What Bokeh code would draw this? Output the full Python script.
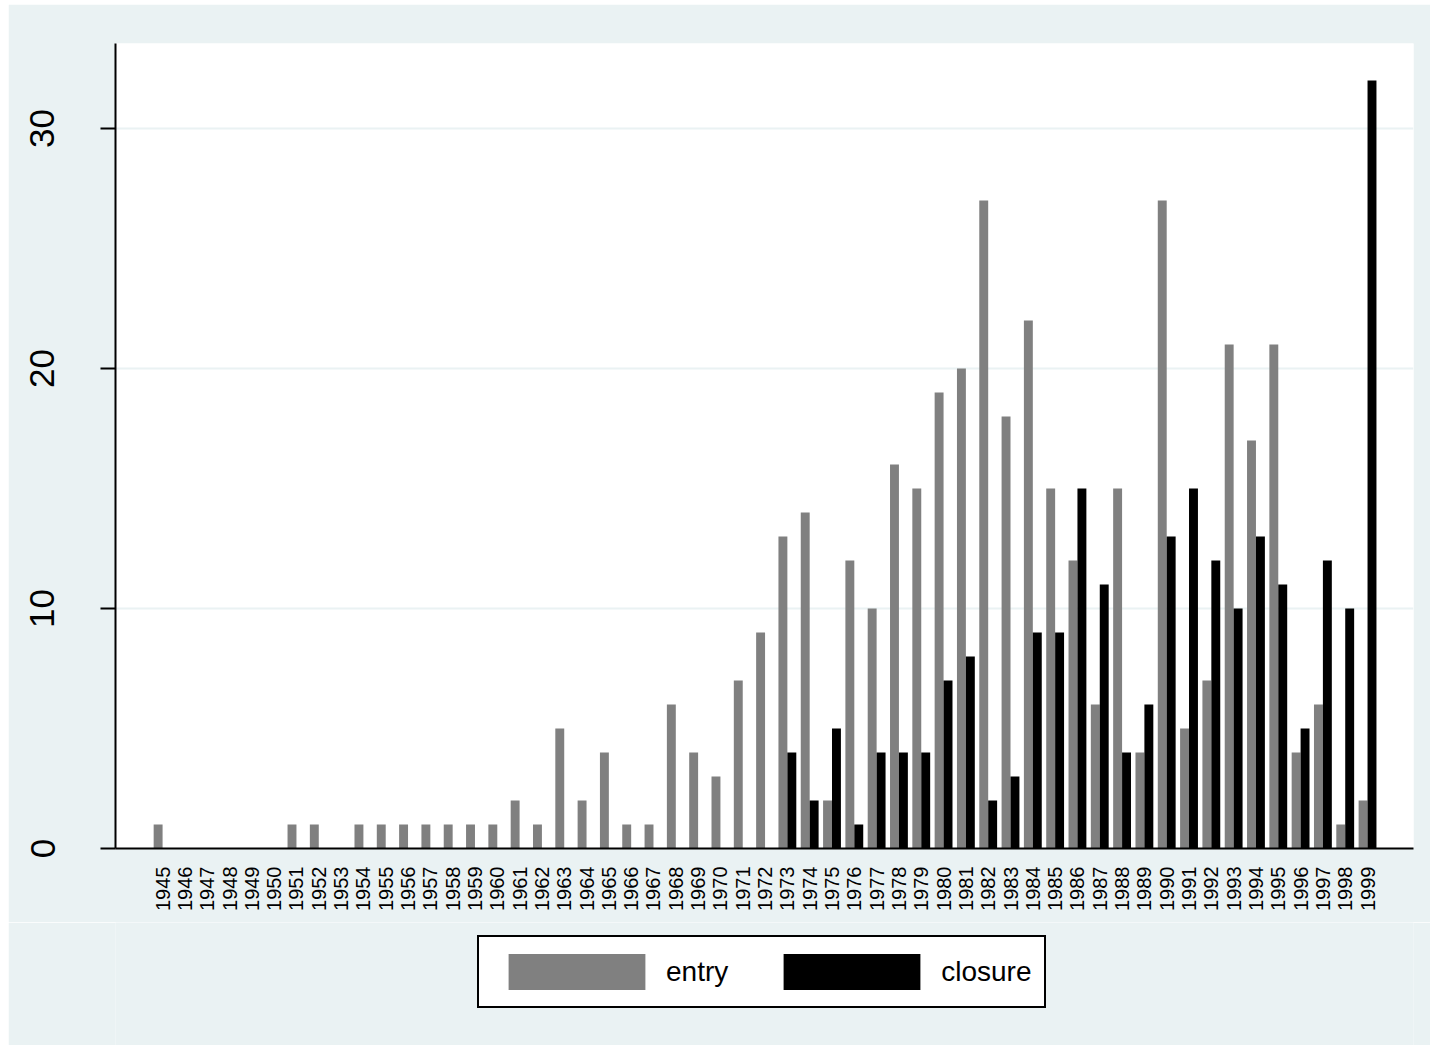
import math
from bokeh.plotting import figure
from bokeh.layouts import column
from bokeh.models import Range1d, FixedTicker, Legend, LegendItem, ColumnDataSource
from bokeh.transform import dodge
from bokeh.embed import file_html
from bokeh.resources import INLINE

years = [1945, 1946, 1947, 1948, 1949, 1950, 1951, 1952, 1953, 1954,
         1955, 1956, 1957, 1958, 1959, 1960, 1961, 1962, 1963, 1964,
         1965, 1966, 1967, 1968, 1969, 1970, 1971, 1972, 1973, 1974,
         1975, 1976, 1977, 1978, 1979, 1980, 1981, 1982, 1983, 1984,
         1985, 1986, 1987, 1988, 1989, 1990, 1991, 1992, 1993, 1994,
         1995, 1996, 1997, 1998, 1999]
entry = [1, 0, 0, 0, 0, 0, 1, 1, 0, 1,
         1, 1, 1, 1, 1, 1, 2, 1, 5, 2,
         4, 1, 1, 6, 4, 3, 7, 9, 13, 14,
         2, 12, 10, 16, 15, 19, 20, 27, 18, 22,
         15, 12, 6, 15, 4, 27, 5, 7, 21, 17,
         21, 4, 6, 1, 2]
closure = [0, 0, 0, 0, 0, 0, 0, 0, 0, 0,
           0, 0, 0, 0, 0, 0, 0, 0, 0, 0,
           0, 0, 0, 0, 0, 0, 0, 0, 4, 2,
           5, 1, 4, 4, 4, 7, 8, 2, 3, 9,
           9, 15, 11, 4, 6, 13, 15, 12, 10, 13,
           11, 5, 12, 10, 32]
y_ticks = [0, 10, 20, 30]
series_labels = ["entry", "closure"]
series_colors = ["#808080", "black"]

BG = "#EAF2F3"
FONT = "Liberation Sans"

src = ColumnDataSource(dict(year=years, entry=entry, closure=closure))
x_rng = Range1d(1942.89, 2001.06)

p = figure(width=1422, height=918, output_backend="svg", toolbar_location=None,
           x_range=x_rng, y_range=Range1d(0, 33.54),
           min_border_left=107, min_border_top=39, min_border_right=17,
           min_border_bottom=74)
p.background_fill_color = "white"
p.border_fill_color = BG
p.outline_line_color = None

r1 = p.vbar(x=dodge("year", -0.2), top="entry", width=0.4, source=src,
            fill_color=series_colors[0], line_color=None)
r2 = p.vbar(x=dodge("year", 0.2), top="closure", width=0.4, source=src,
            fill_color=series_colors[1], line_color=None)

# x axis
xa = p.xaxis[0]
xa.ticker = FixedTicker(ticks=years)
xa.major_label_orientation = math.pi / 2
xa.major_tick_out = 0
xa.major_tick_in = 0
xa.minor_tick_out = 0
xa.minor_tick_in = 0
xa.major_label_standoff = 18
xa.major_label_text_font = FONT
xa.major_label_text_font_size = "20px"
xa.major_label_text_color = "black"
xa.axis_line_color = "black"
xa.axis_line_width = 2

# y axis
ya = p.yaxis[0]
ya.ticker = FixedTicker(ticks=y_ticks)
ya.major_label_orientation = "vertical"
ya.major_tick_out = 15
ya.major_tick_in = 0
ya.minor_tick_out = 0
ya.minor_tick_in = 0
ya.major_tick_line_width = 2
ya.major_tick_line_color = "black"
ya.major_label_standoff = 46
ya.major_label_text_font = FONT
ya.major_label_text_font_size = "35px"
ya.major_label_text_color = "black"
ya.axis_line_color = "black"
ya.axis_line_width = 2

p.xgrid.visible = False
p.ygrid.ticker = FixedTicker(ticks=y_ticks)
p.ygrid.grid_line_color = BG
p.ygrid.grid_line_width = 2

# legend strip below the chart (its bars lie below its view; only the key shows)
lf = figure(width=1422, height=123, output_backend="svg", toolbar_location=None,
            x_range=x_rng, y_range=Range1d(100, 101), min_border=0,
            x_axis_location=None, y_axis_location=None)
lf.grid.visible = False
lf.background_fill_color = BG
lf.border_fill_color = BG
lf.outline_line_color = None
lr1 = lf.vbar(x="year", top="entry", width=0.4, source=src,
              fill_color=series_colors[0], line_color=None)
lr2 = lf.vbar(x="year", top="closure", width=0.4, source=src,
              fill_color=series_colors[1], line_color=None)

legend = Legend(items=[LegendItem(label=series_labels[0], renderers=[lr1]),
                       LegendItem(label=series_labels[1], renderers=[lr2])],
                orientation="horizontal", location=(362, 37),
                glyph_width=171, glyph_height=45, label_standoff=4,
                spacing=38, padding=12, margin=0,
                label_text_font=FONT, label_text_font_size="28px",
                label_text_color="black",
                border_line_color="black", border_line_width=2,
                border_line_alpha=1.0,
                background_fill_color="white", background_fill_alpha=1.0)
lf.add_layout(legend, "center")

layout = column(p, lf, spacing=0, margin=(4, 0, 0, 8))
open("out.html", "w").write(file_html(layout, INLINE))
